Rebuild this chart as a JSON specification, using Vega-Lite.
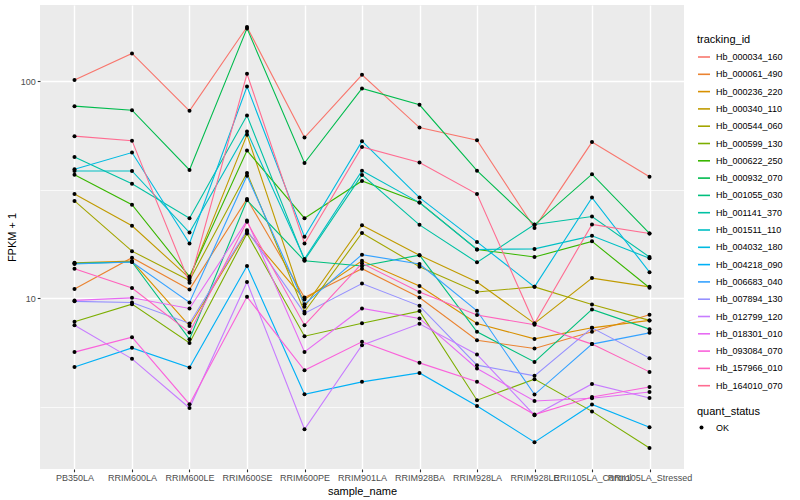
{
  "$schema": "https://vega.github.io/schema/vega-lite/v6.json",
  "width": 644,
  "height": 464,
  "autosize": {"type": "none"},
  "padding": {"left": 40, "top": 5, "right": 116, "bottom": 31},
  "background": "white",
  "config": {
    "font": "Liberation Sans",
    "view": {"fill": "#EBEBEB", "stroke": null},
    "axis": {"domain": false, "tickColor": "#333333", "tickSize": 2.75, "tickWidth": 1.1, "labelColor": "#4D4D4D", "labelFontSize": 9, "titleFontSize": 11, "titleFontWeight": "normal", "titleColor": "black", "gridColor": "white", "labelPadding": 2}
  },
  "data": {"values": [
    {"tracking_id":"Hb_000034_160","sample_name":"PB350LA","fpkm_plus_1":101.1,"quant_status":"OK"},
    {"tracking_id":"Hb_000034_160","sample_name":"RRIM600LA","fpkm_plus_1":134.1,"quant_status":"OK"},
    {"tracking_id":"Hb_000034_160","sample_name":"RRIM600LE","fpkm_plus_1":73.0,"quant_status":"OK"},
    {"tracking_id":"Hb_000034_160","sample_name":"RRIM600SE","fpkm_plus_1":177.4,"quant_status":"OK"},
    {"tracking_id":"Hb_000034_160","sample_name":"RRIM600PE","fpkm_plus_1":55.0,"quant_status":"OK"},
    {"tracking_id":"Hb_000034_160","sample_name":"RRIM901LA","fpkm_plus_1":106.9,"quant_status":"OK"},
    {"tracking_id":"Hb_000034_160","sample_name":"RRIM928BA","fpkm_plus_1":61.1,"quant_status":"OK"},
    {"tracking_id":"Hb_000034_160","sample_name":"RRIM928LA","fpkm_plus_1":53.5,"quant_status":"OK"},
    {"tracking_id":"Hb_000034_160","sample_name":"RRIM928LE","fpkm_plus_1":21.1,"quant_status":"OK"},
    {"tracking_id":"Hb_000034_160","sample_name":"RRII105LA_Control","fpkm_plus_1":52.4,"quant_status":"OK"},
    {"tracking_id":"Hb_000034_160","sample_name":"RRII105LA_Stressed","fpkm_plus_1":36.3,"quant_status":"OK"},
    {"tracking_id":"Hb_000061_490","sample_name":"PB350LA","fpkm_plus_1":11.04,"quant_status":"OK"},
    {"tracking_id":"Hb_000061_490","sample_name":"RRIM600LA","fpkm_plus_1":15.4,"quant_status":"OK"},
    {"tracking_id":"Hb_000061_490","sample_name":"RRIM600LE","fpkm_plus_1":11.0,"quant_status":"OK"},
    {"tracking_id":"Hb_000061_490","sample_name":"RRIM600SE","fpkm_plus_1":28.7,"quant_status":"OK"},
    {"tracking_id":"Hb_000061_490","sample_name":"RRIM600PE","fpkm_plus_1":10.1,"quant_status":"OK"},
    {"tracking_id":"Hb_000061_490","sample_name":"RRIM901LA","fpkm_plus_1":13.7,"quant_status":"OK"},
    {"tracking_id":"Hb_000061_490","sample_name":"RRIM928BA","fpkm_plus_1":10.1,"quant_status":"OK"},
    {"tracking_id":"Hb_000061_490","sample_name":"RRIM928LA","fpkm_plus_1":6.42,"quant_status":"OK"},
    {"tracking_id":"Hb_000061_490","sample_name":"RRIM928LE","fpkm_plus_1":5.88,"quant_status":"OK"},
    {"tracking_id":"Hb_000061_490","sample_name":"RRII105LA_Control","fpkm_plus_1":7.02,"quant_status":"OK"},
    {"tracking_id":"Hb_000061_490","sample_name":"RRII105LA_Stressed","fpkm_plus_1":8.40,"quant_status":"OK"},
    {"tracking_id":"Hb_000236_220","sample_name":"PB350LA","fpkm_plus_1":14.6,"quant_status":"OK"},
    {"tracking_id":"Hb_000236_220","sample_name":"RRIM600LA","fpkm_plus_1":14.85,"quant_status":"OK"},
    {"tracking_id":"Hb_000236_220","sample_name":"RRIM600LE","fpkm_plus_1":7.47,"quant_status":"OK"},
    {"tracking_id":"Hb_000236_220","sample_name":"RRIM600SE","fpkm_plus_1":20.3,"quant_status":"OK"},
    {"tracking_id":"Hb_000236_220","sample_name":"RRIM600PE","fpkm_plus_1":9.89,"quant_status":"OK"},
    {"tracking_id":"Hb_000236_220","sample_name":"RRIM901LA","fpkm_plus_1":14.9,"quant_status":"OK"},
    {"tracking_id":"Hb_000236_220","sample_name":"RRIM928BA","fpkm_plus_1":11.4,"quant_status":"OK"},
    {"tracking_id":"Hb_000236_220","sample_name":"RRIM928LA","fpkm_plus_1":7.67,"quant_status":"OK"},
    {"tracking_id":"Hb_000236_220","sample_name":"RRIM928LE","fpkm_plus_1":6.51,"quant_status":"OK"},
    {"tracking_id":"Hb_000236_220","sample_name":"RRII105LA_Control","fpkm_plus_1":7.32,"quant_status":"OK"},
    {"tracking_id":"Hb_000236_220","sample_name":"RRII105LA_Stressed","fpkm_plus_1":7.92,"quant_status":"OK"},
    {"tracking_id":"Hb_000340_110","sample_name":"PB350LA","fpkm_plus_1":30.2,"quant_status":"OK"},
    {"tracking_id":"Hb_000340_110","sample_name":"RRIM600LA","fpkm_plus_1":21.6,"quant_status":"OK"},
    {"tracking_id":"Hb_000340_110","sample_name":"RRIM600LE","fpkm_plus_1":12.4,"quant_status":"OK"},
    {"tracking_id":"Hb_000340_110","sample_name":"RRIM600SE","fpkm_plus_1":56.6,"quant_status":"OK"},
    {"tracking_id":"Hb_000340_110","sample_name":"RRIM600PE","fpkm_plus_1":9.15,"quant_status":"OK"},
    {"tracking_id":"Hb_000340_110","sample_name":"RRIM901LA","fpkm_plus_1":21.7,"quant_status":"OK"},
    {"tracking_id":"Hb_000340_110","sample_name":"RRIM928BA","fpkm_plus_1":15.8,"quant_status":"OK"},
    {"tracking_id":"Hb_000340_110","sample_name":"RRIM928LA","fpkm_plus_1":11.9,"quant_status":"OK"},
    {"tracking_id":"Hb_000340_110","sample_name":"RRIM928LE","fpkm_plus_1":7.67,"quant_status":"OK"},
    {"tracking_id":"Hb_000340_110","sample_name":"RRII105LA_Control","fpkm_plus_1":12.4,"quant_status":"OK"},
    {"tracking_id":"Hb_000340_110","sample_name":"RRII105LA_Stressed","fpkm_plus_1":11.3,"quant_status":"OK"},
    {"tracking_id":"Hb_000544_060","sample_name":"PB350LA","fpkm_plus_1":28.1,"quant_status":"OK"},
    {"tracking_id":"Hb_000544_060","sample_name":"RRIM600LA","fpkm_plus_1":16.5,"quant_status":"OK"},
    {"tracking_id":"Hb_000544_060","sample_name":"RRIM600LE","fpkm_plus_1":12.1,"quant_status":"OK"},
    {"tracking_id":"Hb_000544_060","sample_name":"RRIM600SE","fpkm_plus_1":37.8,"quant_status":"OK"},
    {"tracking_id":"Hb_000544_060","sample_name":"RRIM600PE","fpkm_plus_1":8.68,"quant_status":"OK"},
    {"tracking_id":"Hb_000544_060","sample_name":"RRIM901LA","fpkm_plus_1":20.0,"quant_status":"OK"},
    {"tracking_id":"Hb_000544_060","sample_name":"RRIM928BA","fpkm_plus_1":14.0,"quant_status":"OK"},
    {"tracking_id":"Hb_000544_060","sample_name":"RRIM928LA","fpkm_plus_1":10.7,"quant_status":"OK"},
    {"tracking_id":"Hb_000544_060","sample_name":"RRIM928LE","fpkm_plus_1":11.3,"quant_status":"OK"},
    {"tracking_id":"Hb_000544_060","sample_name":"RRII105LA_Control","fpkm_plus_1":9.38,"quant_status":"OK"},
    {"tracking_id":"Hb_000544_060","sample_name":"RRII105LA_Stressed","fpkm_plus_1":7.92,"quant_status":"OK"},
    {"tracking_id":"Hb_000599_130","sample_name":"PB350LA","fpkm_plus_1":7.80,"quant_status":"OK"},
    {"tracking_id":"Hb_000599_130","sample_name":"RRIM600LA","fpkm_plus_1":9.41,"quant_status":"OK"},
    {"tracking_id":"Hb_000599_130","sample_name":"RRIM600LE","fpkm_plus_1":6.24,"quant_status":"OK"},
    {"tracking_id":"Hb_000599_130","sample_name":"RRIM600SE","fpkm_plus_1":19.9,"quant_status":"OK"},
    {"tracking_id":"Hb_000599_130","sample_name":"RRIM600PE","fpkm_plus_1":6.70,"quant_status":"OK"},
    {"tracking_id":"Hb_000599_130","sample_name":"RRIM901LA","fpkm_plus_1":7.69,"quant_status":"OK"},
    {"tracking_id":"Hb_000599_130","sample_name":"RRIM928BA","fpkm_plus_1":8.74,"quant_status":"OK"},
    {"tracking_id":"Hb_000599_130","sample_name":"RRIM928LA","fpkm_plus_1":3.40,"quant_status":"OK"},
    {"tracking_id":"Hb_000599_130","sample_name":"RRIM928LE","fpkm_plus_1":4.25,"quant_status":"OK"},
    {"tracking_id":"Hb_000599_130","sample_name":"RRII105LA_Control","fpkm_plus_1":3.02,"quant_status":"OK"},
    {"tracking_id":"Hb_000599_130","sample_name":"RRII105LA_Stressed","fpkm_plus_1":2.05,"quant_status":"OK"},
    {"tracking_id":"Hb_000622_250","sample_name":"PB350LA","fpkm_plus_1":37.1,"quant_status":"OK"},
    {"tracking_id":"Hb_000622_250","sample_name":"RRIM600LA","fpkm_plus_1":27.0,"quant_status":"OK"},
    {"tracking_id":"Hb_000622_250","sample_name":"RRIM600LE","fpkm_plus_1":12.6,"quant_status":"OK"},
    {"tracking_id":"Hb_000622_250","sample_name":"RRIM600SE","fpkm_plus_1":47.9,"quant_status":"OK"},
    {"tracking_id":"Hb_000622_250","sample_name":"RRIM600PE","fpkm_plus_1":23.4,"quant_status":"OK"},
    {"tracking_id":"Hb_000622_250","sample_name":"RRIM901LA","fpkm_plus_1":34.7,"quant_status":"OK"},
    {"tracking_id":"Hb_000622_250","sample_name":"RRIM928BA","fpkm_plus_1":27.6,"quant_status":"OK"},
    {"tracking_id":"Hb_000622_250","sample_name":"RRIM928LA","fpkm_plus_1":16.8,"quant_status":"OK"},
    {"tracking_id":"Hb_000622_250","sample_name":"RRIM928LE","fpkm_plus_1":15.5,"quant_status":"OK"},
    {"tracking_id":"Hb_000622_250","sample_name":"RRII105LA_Control","fpkm_plus_1":18.3,"quant_status":"OK"},
    {"tracking_id":"Hb_000622_250","sample_name":"RRII105LA_Stressed","fpkm_plus_1":11.2,"quant_status":"OK"},
    {"tracking_id":"Hb_000932_070","sample_name":"PB350LA","fpkm_plus_1":76.7,"quant_status":"OK"},
    {"tracking_id":"Hb_000932_070","sample_name":"RRIM600LA","fpkm_plus_1":73.5,"quant_status":"OK"},
    {"tracking_id":"Hb_000932_070","sample_name":"RRIM600LE","fpkm_plus_1":39.0,"quant_status":"OK"},
    {"tracking_id":"Hb_000932_070","sample_name":"RRIM600SE","fpkm_plus_1":174.8,"quant_status":"OK"},
    {"tracking_id":"Hb_000932_070","sample_name":"RRIM600PE","fpkm_plus_1":42.0,"quant_status":"OK"},
    {"tracking_id":"Hb_000932_070","sample_name":"RRIM901LA","fpkm_plus_1":92.5,"quant_status":"OK"},
    {"tracking_id":"Hb_000932_070","sample_name":"RRIM928BA","fpkm_plus_1":77.8,"quant_status":"OK"},
    {"tracking_id":"Hb_000932_070","sample_name":"RRIM928LA","fpkm_plus_1":38.7,"quant_status":"OK"},
    {"tracking_id":"Hb_000932_070","sample_name":"RRIM928LE","fpkm_plus_1":21.8,"quant_status":"OK"},
    {"tracking_id":"Hb_000932_070","sample_name":"RRII105LA_Control","fpkm_plus_1":37.3,"quant_status":"OK"},
    {"tracking_id":"Hb_000932_070","sample_name":"RRII105LA_Stressed","fpkm_plus_1":19.9,"quant_status":"OK"},
    {"tracking_id":"Hb_001055_030","sample_name":"PB350LA","fpkm_plus_1":14.5,"quant_status":"OK"},
    {"tracking_id":"Hb_001055_030","sample_name":"RRIM600LA","fpkm_plus_1":14.7,"quant_status":"OK"},
    {"tracking_id":"Hb_001055_030","sample_name":"RRIM600LE","fpkm_plus_1":6.49,"quant_status":"OK"},
    {"tracking_id":"Hb_001055_030","sample_name":"RRIM600SE","fpkm_plus_1":28.3,"quant_status":"OK"},
    {"tracking_id":"Hb_001055_030","sample_name":"RRIM600PE","fpkm_plus_1":14.9,"quant_status":"OK"},
    {"tracking_id":"Hb_001055_030","sample_name":"RRIM901LA","fpkm_plus_1":14.1,"quant_status":"OK"},
    {"tracking_id":"Hb_001055_030","sample_name":"RRIM928BA","fpkm_plus_1":15.8,"quant_status":"OK"},
    {"tracking_id":"Hb_001055_030","sample_name":"RRIM928LA","fpkm_plus_1":7.02,"quant_status":"OK"},
    {"tracking_id":"Hb_001055_030","sample_name":"RRIM928LE","fpkm_plus_1":5.10,"quant_status":"OK"},
    {"tracking_id":"Hb_001055_030","sample_name":"RRII105LA_Control","fpkm_plus_1":8.90,"quant_status":"OK"},
    {"tracking_id":"Hb_001055_030","sample_name":"RRII105LA_Stressed","fpkm_plus_1":7.22,"quant_status":"OK"},
    {"tracking_id":"Hb_001141_370","sample_name":"PB350LA","fpkm_plus_1":44.7,"quant_status":"OK"},
    {"tracking_id":"Hb_001141_370","sample_name":"RRIM600LA","fpkm_plus_1":33.7,"quant_status":"OK"},
    {"tracking_id":"Hb_001141_370","sample_name":"RRIM600LE","fpkm_plus_1":23.4,"quant_status":"OK"},
    {"tracking_id":"Hb_001141_370","sample_name":"RRIM600SE","fpkm_plus_1":69.4,"quant_status":"OK"},
    {"tracking_id":"Hb_001141_370","sample_name":"RRIM600PE","fpkm_plus_1":15.0,"quant_status":"OK"},
    {"tracking_id":"Hb_001141_370","sample_name":"RRIM901LA","fpkm_plus_1":37.0,"quant_status":"OK"},
    {"tracking_id":"Hb_001141_370","sample_name":"RRIM928BA","fpkm_plus_1":21.8,"quant_status":"OK"},
    {"tracking_id":"Hb_001141_370","sample_name":"RRIM928LA","fpkm_plus_1":14.65,"quant_status":"OK"},
    {"tracking_id":"Hb_001141_370","sample_name":"RRIM928LE","fpkm_plus_1":21.9,"quant_status":"OK"},
    {"tracking_id":"Hb_001141_370","sample_name":"RRII105LA_Control","fpkm_plus_1":23.8,"quant_status":"OK"},
    {"tracking_id":"Hb_001141_370","sample_name":"RRII105LA_Stressed","fpkm_plus_1":15.5,"quant_status":"OK"},
    {"tracking_id":"Hb_001511_110","sample_name":"PB350LA","fpkm_plus_1":38.6,"quant_status":"OK"},
    {"tracking_id":"Hb_001511_110","sample_name":"RRIM600LA","fpkm_plus_1":38.6,"quant_status":"OK"},
    {"tracking_id":"Hb_001511_110","sample_name":"RRIM600LE","fpkm_plus_1":20.1,"quant_status":"OK"},
    {"tracking_id":"Hb_001511_110","sample_name":"RRIM600SE","fpkm_plus_1":58.6,"quant_status":"OK"},
    {"tracking_id":"Hb_001511_110","sample_name":"RRIM600PE","fpkm_plus_1":15.2,"quant_status":"OK"},
    {"tracking_id":"Hb_001511_110","sample_name":"RRIM901LA","fpkm_plus_1":38.7,"quant_status":"OK"},
    {"tracking_id":"Hb_001511_110","sample_name":"RRIM928BA","fpkm_plus_1":27.6,"quant_status":"OK"},
    {"tracking_id":"Hb_001511_110","sample_name":"RRIM928LA","fpkm_plus_1":16.8,"quant_status":"OK"},
    {"tracking_id":"Hb_001511_110","sample_name":"RRIM928LE","fpkm_plus_1":16.9,"quant_status":"OK"},
    {"tracking_id":"Hb_001511_110","sample_name":"RRII105LA_Control","fpkm_plus_1":19.4,"quant_status":"OK"},
    {"tracking_id":"Hb_001511_110","sample_name":"RRII105LA_Stressed","fpkm_plus_1":15.3,"quant_status":"OK"},
    {"tracking_id":"Hb_004032_180","sample_name":"PB350LA","fpkm_plus_1":39.3,"quant_status":"OK"},
    {"tracking_id":"Hb_004032_180","sample_name":"RRIM600LA","fpkm_plus_1":46.9,"quant_status":"OK"},
    {"tracking_id":"Hb_004032_180","sample_name":"RRIM600LE","fpkm_plus_1":17.9,"quant_status":"OK"},
    {"tracking_id":"Hb_004032_180","sample_name":"RRIM600SE","fpkm_plus_1":94.4,"quant_status":"OK"},
    {"tracking_id":"Hb_004032_180","sample_name":"RRIM600PE","fpkm_plus_1":19.2,"quant_status":"OK"},
    {"tracking_id":"Hb_004032_180","sample_name":"RRIM901LA","fpkm_plus_1":52.9,"quant_status":"OK"},
    {"tracking_id":"Hb_004032_180","sample_name":"RRIM928BA","fpkm_plus_1":29.1,"quant_status":"OK"},
    {"tracking_id":"Hb_004032_180","sample_name":"RRIM928LA","fpkm_plus_1":18.2,"quant_status":"OK"},
    {"tracking_id":"Hb_004032_180","sample_name":"RRIM928LE","fpkm_plus_1":11.3,"quant_status":"OK"},
    {"tracking_id":"Hb_004032_180","sample_name":"RRII105LA_Control","fpkm_plus_1":29.1,"quant_status":"OK"},
    {"tracking_id":"Hb_004032_180","sample_name":"RRII105LA_Stressed","fpkm_plus_1":13.2,"quant_status":"OK"},
    {"tracking_id":"Hb_004218_090","sample_name":"PB350LA","fpkm_plus_1":4.83,"quant_status":"OK"},
    {"tracking_id":"Hb_004218_090","sample_name":"RRIM600LA","fpkm_plus_1":5.92,"quant_status":"OK"},
    {"tracking_id":"Hb_004218_090","sample_name":"RRIM600LE","fpkm_plus_1":4.81,"quant_status":"OK"},
    {"tracking_id":"Hb_004218_090","sample_name":"RRIM600SE","fpkm_plus_1":14.1,"quant_status":"OK"},
    {"tracking_id":"Hb_004218_090","sample_name":"RRIM600PE","fpkm_plus_1":3.62,"quant_status":"OK"},
    {"tracking_id":"Hb_004218_090","sample_name":"RRIM901LA","fpkm_plus_1":4.13,"quant_status":"OK"},
    {"tracking_id":"Hb_004218_090","sample_name":"RRIM928BA","fpkm_plus_1":4.54,"quant_status":"OK"},
    {"tracking_id":"Hb_004218_090","sample_name":"RRIM928LA","fpkm_plus_1":3.20,"quant_status":"OK"},
    {"tracking_id":"Hb_004218_090","sample_name":"RRIM928LE","fpkm_plus_1":2.18,"quant_status":"OK"},
    {"tracking_id":"Hb_004218_090","sample_name":"RRII105LA_Control","fpkm_plus_1":3.25,"quant_status":"OK"},
    {"tracking_id":"Hb_004218_090","sample_name":"RRII105LA_Stressed","fpkm_plus_1":2.55,"quant_status":"OK"},
    {"tracking_id":"Hb_006683_040","sample_name":"PB350LA","fpkm_plus_1":14.4,"quant_status":"OK"},
    {"tracking_id":"Hb_006683_040","sample_name":"RRIM600LA","fpkm_plus_1":14.7,"quant_status":"OK"},
    {"tracking_id":"Hb_006683_040","sample_name":"RRIM600LE","fpkm_plus_1":9.58,"quant_status":"OK"},
    {"tracking_id":"Hb_006683_040","sample_name":"RRIM600SE","fpkm_plus_1":36.7,"quant_status":"OK"},
    {"tracking_id":"Hb_006683_040","sample_name":"RRIM600PE","fpkm_plus_1":9.41,"quant_status":"OK"},
    {"tracking_id":"Hb_006683_040","sample_name":"RRIM901LA","fpkm_plus_1":15.9,"quant_status":"OK"},
    {"tracking_id":"Hb_006683_040","sample_name":"RRIM928BA","fpkm_plus_1":14.4,"quant_status":"OK"},
    {"tracking_id":"Hb_006683_040","sample_name":"RRIM928LA","fpkm_plus_1":8.77,"quant_status":"OK"},
    {"tracking_id":"Hb_006683_040","sample_name":"RRIM928LE","fpkm_plus_1":3.61,"quant_status":"OK"},
    {"tracking_id":"Hb_006683_040","sample_name":"RRII105LA_Control","fpkm_plus_1":6.16,"quant_status":"OK"},
    {"tracking_id":"Hb_006683_040","sample_name":"RRII105LA_Stressed","fpkm_plus_1":6.94,"quant_status":"OK"},
    {"tracking_id":"Hb_007894_130","sample_name":"PB350LA","fpkm_plus_1":9.69,"quant_status":"OK"},
    {"tracking_id":"Hb_007894_130","sample_name":"RRIM600LA","fpkm_plus_1":9.58,"quant_status":"OK"},
    {"tracking_id":"Hb_007894_130","sample_name":"RRIM600LE","fpkm_plus_1":7.67,"quant_status":"OK"},
    {"tracking_id":"Hb_007894_130","sample_name":"RRIM600SE","fpkm_plus_1":20.6,"quant_status":"OK"},
    {"tracking_id":"Hb_007894_130","sample_name":"RRIM600PE","fpkm_plus_1":8.53,"quant_status":"OK"},
    {"tracking_id":"Hb_007894_130","sample_name":"RRIM901LA","fpkm_plus_1":11.7,"quant_status":"OK"},
    {"tracking_id":"Hb_007894_130","sample_name":"RRIM928BA","fpkm_plus_1":9.24,"quant_status":"OK"},
    {"tracking_id":"Hb_007894_130","sample_name":"RRIM928LA","fpkm_plus_1":4.93,"quant_status":"OK"},
    {"tracking_id":"Hb_007894_130","sample_name":"RRIM928LE","fpkm_plus_1":4.40,"quant_status":"OK"},
    {"tracking_id":"Hb_007894_130","sample_name":"RRII105LA_Control","fpkm_plus_1":7.32,"quant_status":"OK"},
    {"tracking_id":"Hb_007894_130","sample_name":"RRII105LA_Stressed","fpkm_plus_1":5.31,"quant_status":"OK"},
    {"tracking_id":"Hb_012799_120","sample_name":"PB350LA","fpkm_plus_1":7.53,"quant_status":"OK"},
    {"tracking_id":"Hb_012799_120","sample_name":"RRIM600LA","fpkm_plus_1":5.27,"quant_status":"OK"},
    {"tracking_id":"Hb_012799_120","sample_name":"RRIM600LE","fpkm_plus_1":3.13,"quant_status":"OK"},
    {"tracking_id":"Hb_012799_120","sample_name":"RRIM600SE","fpkm_plus_1":11.9,"quant_status":"OK"},
    {"tracking_id":"Hb_012799_120","sample_name":"RRIM600PE","fpkm_plus_1":2.50,"quant_status":"OK"},
    {"tracking_id":"Hb_012799_120","sample_name":"RRIM901LA","fpkm_plus_1":6.09,"quant_status":"OK"},
    {"tracking_id":"Hb_012799_120","sample_name":"RRIM928BA","fpkm_plus_1":7.64,"quant_status":"OK"},
    {"tracking_id":"Hb_012799_120","sample_name":"RRIM928LA","fpkm_plus_1":5.52,"quant_status":"OK"},
    {"tracking_id":"Hb_012799_120","sample_name":"RRIM928LE","fpkm_plus_1":2.90,"quant_status":"OK"},
    {"tracking_id":"Hb_012799_120","sample_name":"RRII105LA_Control","fpkm_plus_1":4.04,"quant_status":"OK"},
    {"tracking_id":"Hb_012799_120","sample_name":"RRII105LA_Stressed","fpkm_plus_1":3.48,"quant_status":"OK"},
    {"tracking_id":"Hb_018301_010","sample_name":"PB350LA","fpkm_plus_1":9.79,"quant_status":"OK"},
    {"tracking_id":"Hb_018301_010","sample_name":"RRIM600LA","fpkm_plus_1":10.06,"quant_status":"OK"},
    {"tracking_id":"Hb_018301_010","sample_name":"RRIM600LE","fpkm_plus_1":8.99,"quant_status":"OK"},
    {"tracking_id":"Hb_018301_010","sample_name":"RRIM600SE","fpkm_plus_1":22.8,"quant_status":"OK"},
    {"tracking_id":"Hb_018301_010","sample_name":"RRIM600PE","fpkm_plus_1":5.67,"quant_status":"OK"},
    {"tracking_id":"Hb_018301_010","sample_name":"RRIM901LA","fpkm_plus_1":8.99,"quant_status":"OK"},
    {"tracking_id":"Hb_018301_010","sample_name":"RRIM928BA","fpkm_plus_1":8.09,"quant_status":"OK"},
    {"tracking_id":"Hb_018301_010","sample_name":"RRIM928LA","fpkm_plus_1":4.76,"quant_status":"OK"},
    {"tracking_id":"Hb_018301_010","sample_name":"RRIM928LE","fpkm_plus_1":3.37,"quant_status":"OK"},
    {"tracking_id":"Hb_018301_010","sample_name":"RRII105LA_Control","fpkm_plus_1":3.47,"quant_status":"OK"},
    {"tracking_id":"Hb_018301_010","sample_name":"RRII105LA_Stressed","fpkm_plus_1":3.71,"quant_status":"OK"},
    {"tracking_id":"Hb_093084_070","sample_name":"PB350LA","fpkm_plus_1":5.66,"quant_status":"OK"},
    {"tracking_id":"Hb_093084_070","sample_name":"RRIM600LA","fpkm_plus_1":6.63,"quant_status":"OK"},
    {"tracking_id":"Hb_093084_070","sample_name":"RRIM600LE","fpkm_plus_1":3.26,"quant_status":"OK"},
    {"tracking_id":"Hb_093084_070","sample_name":"RRIM600SE","fpkm_plus_1":10.17,"quant_status":"OK"},
    {"tracking_id":"Hb_093084_070","sample_name":"RRIM600PE","fpkm_plus_1":4.67,"quant_status":"OK"},
    {"tracking_id":"Hb_093084_070","sample_name":"RRIM901LA","fpkm_plus_1":6.31,"quant_status":"OK"},
    {"tracking_id":"Hb_093084_070","sample_name":"RRIM928BA","fpkm_plus_1":5.05,"quant_status":"OK"},
    {"tracking_id":"Hb_093084_070","sample_name":"RRIM928LA","fpkm_plus_1":4.13,"quant_status":"OK"},
    {"tracking_id":"Hb_093084_070","sample_name":"RRIM928LE","fpkm_plus_1":2.92,"quant_status":"OK"},
    {"tracking_id":"Hb_093084_070","sample_name":"RRII105LA_Control","fpkm_plus_1":3.52,"quant_status":"OK"},
    {"tracking_id":"Hb_093084_070","sample_name":"RRII105LA_Stressed","fpkm_plus_1":3.91,"quant_status":"OK"},
    {"tracking_id":"Hb_157966_010","sample_name":"PB350LA","fpkm_plus_1":13.7,"quant_status":"OK"},
    {"tracking_id":"Hb_157966_010","sample_name":"RRIM600LA","fpkm_plus_1":11.16,"quant_status":"OK"},
    {"tracking_id":"Hb_157966_010","sample_name":"RRIM600LE","fpkm_plus_1":6.97,"quant_status":"OK"},
    {"tracking_id":"Hb_157966_010","sample_name":"RRIM600SE","fpkm_plus_1":22.5,"quant_status":"OK"},
    {"tracking_id":"Hb_157966_010","sample_name":"RRIM600PE","fpkm_plus_1":7.53,"quant_status":"OK"},
    {"tracking_id":"Hb_157966_010","sample_name":"RRIM901LA","fpkm_plus_1":14.5,"quant_status":"OK"},
    {"tracking_id":"Hb_157966_010","sample_name":"RRIM928BA","fpkm_plus_1":10.7,"quant_status":"OK"},
    {"tracking_id":"Hb_157966_010","sample_name":"RRIM928LA","fpkm_plus_1":8.38,"quant_status":"OK"},
    {"tracking_id":"Hb_157966_010","sample_name":"RRIM928LE","fpkm_plus_1":7.57,"quant_status":"OK"},
    {"tracking_id":"Hb_157966_010","sample_name":"RRII105LA_Control","fpkm_plus_1":6.16,"quant_status":"OK"},
    {"tracking_id":"Hb_157966_010","sample_name":"RRII105LA_Stressed","fpkm_plus_1":4.59,"quant_status":"OK"},
    {"tracking_id":"Hb_164010_070","sample_name":"PB350LA","fpkm_plus_1":55.8,"quant_status":"OK"},
    {"tracking_id":"Hb_164010_070","sample_name":"RRIM600LA","fpkm_plus_1":53.2,"quant_status":"OK"},
    {"tracking_id":"Hb_164010_070","sample_name":"RRIM600LE","fpkm_plus_1":11.8,"quant_status":"OK"},
    {"tracking_id":"Hb_164010_070","sample_name":"RRIM600SE","fpkm_plus_1":108.1,"quant_status":"OK"},
    {"tracking_id":"Hb_164010_070","sample_name":"RRIM600PE","fpkm_plus_1":17.9,"quant_status":"OK"},
    {"tracking_id":"Hb_164010_070","sample_name":"RRIM901LA","fpkm_plus_1":49.8,"quant_status":"OK"},
    {"tracking_id":"Hb_164010_070","sample_name":"RRIM928BA","fpkm_plus_1":42.2,"quant_status":"OK"},
    {"tracking_id":"Hb_164010_070","sample_name":"RRIM928LA","fpkm_plus_1":30.2,"quant_status":"OK"},
    {"tracking_id":"Hb_164010_070","sample_name":"RRIM928LE","fpkm_plus_1":7.67,"quant_status":"OK"},
    {"tracking_id":"Hb_164010_070","sample_name":"RRII105LA_Control","fpkm_plus_1":21.9,"quant_status":"OK"},
    {"tracking_id":"Hb_164010_070","sample_name":"RRII105LA_Stressed","fpkm_plus_1":19.9,"quant_status":"OK"}
  ]},
  "encoding": {
    "x": {"field": "sample_name", "type": "nominal", "title": "sample_name",
      "scale": {"type": "point", "padding": 0.6, "domain": ["PB350LA","RRIM600LA","RRIM600LE","RRIM600SE","RRIM600PE","RRIM901LA","RRIM928BA","RRIM928LA","RRIM928LE","RRII105LA_Control","RRII105LA_Stressed"]},
      "axis": {"labelAngle": 0, "grid": true, "gridWidth": 1.4, "labelOverlap": false, "labelBound": false, "titlePadding": 3}},
    "y": {"field": "fpkm_plus_1", "type": "quantitative", "title": "FPKM + 1",
      "scale": {"type": "log", "domain": [1.64, 224], "nice": false, "zero": false},
      "axis": {"values": [3.1623, 10, 31.623, 100],
        "labelExpr": "datum.value == 10 ? '10' : datum.value == 100 ? '100' : ''",
        "gridWidth": {"condition": {"test": "datum.value == 10 || datum.value == 100", "value": 1.4}, "value": 0.7},
        "tickColor": {"condition": {"test": "datum.value == 10 || datum.value == 100", "value": "#333333"}, "value": "transparent"},
        "titlePadding": 3}}
  },
  "layer": [
    {"mark": {"type": "line", "strokeWidth": 1.1},
     "encoding": {
       "color": {"field": "tracking_id", "type": "nominal",
         "scale": {"domain": ["Hb_000034_160","Hb_000061_490","Hb_000236_220","Hb_000340_110","Hb_000544_060","Hb_000599_130","Hb_000622_250","Hb_000932_070","Hb_001055_030","Hb_001141_370","Hb_001511_110","Hb_004032_180","Hb_004218_090","Hb_006683_040","Hb_007894_130","Hb_012799_120","Hb_018301_010","Hb_093084_070","Hb_157966_010","Hb_164010_070"],
           "range": ["#F8766D","#EA8331","#D89000","#C09B00","#A3A500","#7CAE00","#39B600","#00BB4E","#00BF7D","#00C1A3","#00BFC4","#00BAE0","#00B0F6","#35A2FF","#9590FF","#C77CFF","#E76BF3","#FA62DB","#FF62BC","#FF6C91"]},
         "legend": {"title": "tracking_id", "orient": "none", "legendX": 657, "legendY": 29, "padding": 0, "symbolType": "stroke", "symbolSize": 144, "symbolStrokeWidth": 1.6, "rowPadding": 5.3, "labelFontSize": 9, "labelColor": "black", "titleFontSize": 11, "titleFontWeight": "normal", "titleColor": "black", "titlePadding": 5, "labelOffset": 5}}
     }},
    {"mark": {"type": "point", "filled": true, "size": 16, "opacity": 1, "color": "black"},
     "encoding": {
       "shape": {"field": "quant_status", "type": "nominal", "scale": {"range": ["circle"]},
         "legend": {"title": "quant_status", "orient": "none", "legendX": 657, "legendY": 401, "padding": 0, "symbolFillColor": "black", "symbolStrokeColor": "black", "symbolSize": 16, "labelFontSize": 9, "labelColor": "black", "titleFontSize": 11, "titleFontWeight": "normal", "titleColor": "black", "titlePadding": 6, "labelOffset": 10}}
     }}
  ]
}
